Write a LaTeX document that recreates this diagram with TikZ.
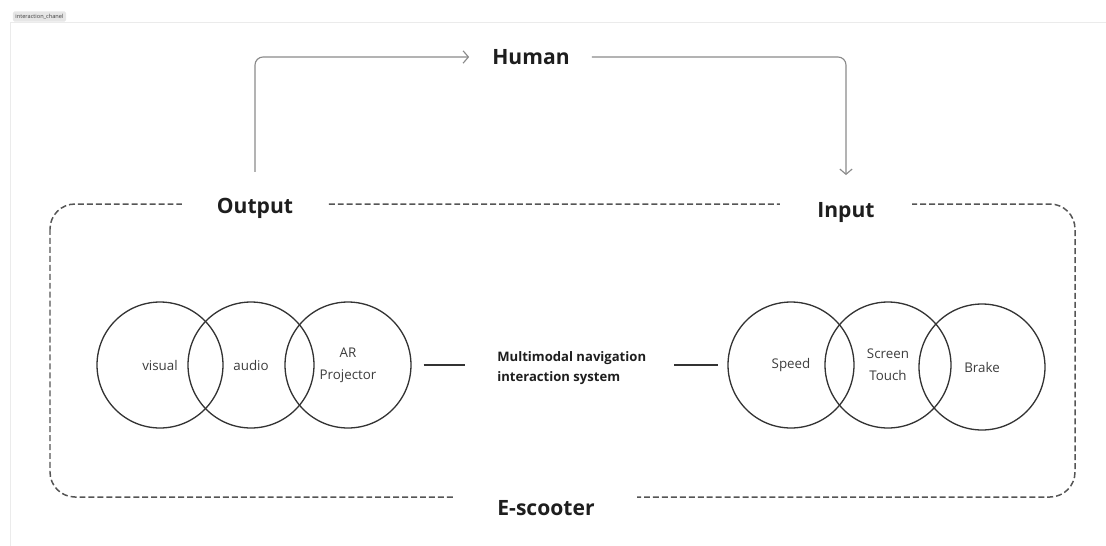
\documentclass[tikz,border=0pt]{standalone}
\usepackage{fontspec}
\setmainfont{Open Sans}
\usetikzlibrary{arrows.meta,positioning}

\definecolor{trazo}{HTML}{333333}
\definecolor{guion}{HTML}{555555}
\definecolor{flechagris}{HTML}{8A8A8A}
\definecolor{texto}{HTML}{3C3C3C}
\definecolor{negro}{HTML}{1E1E1E}
\definecolor{marcogris}{HTML}{EBEBEB}
\definecolor{rotulogris}{HTML}{E6E6E6}

\begin{document}
\begin{tikzpicture}[x=0.02cm,y=-0.02cm,
    circulo/.style={circle,draw=trazo,line width=0.75pt,minimum size=2.52cm,inner sep=0pt,
      align=center,text=texto,font=\fontsize{7.6}{12.5}\selectfont},
    titulo/.style={fill=white,text=negro,inner ysep=6pt,font=\fontsize{12}{14}\selectfont\bfseries},
    flecha/.style={draw=flechagris,line width=0.65pt,rounded corners=0.16cm,
      -{Straight Barb[length=3pt,width=7pt]}},
    enlace/.style={draw=trazo,line width=0.7pt},
    caja/.style={draw=guion,line width=0.85pt,dash pattern=on 3.4pt off 1.7pt,rounded corners=0.5cm}]
    % Lienzo y marco del tablero.
    \useasboundingbox (0,0) rectangle (1106,545);
    \draw[marcogris,line width=0.5pt] (10,22) rectangle (1130,570);
    \node[fill=rotulogris,rounded corners=1pt,inner sep=1.5pt,text=texto,
      font=\fontsize{3.2}{4}\selectfont] (rotulo) at (39.5,16.5) {interaction\_chanel};

    % Recuadro discontinuo del patinete; los titulos tapan los huecos.
    \draw[caja] (50,204) rectangle (1075,497);

    % Titulos: salida, entrada, usuario y vehiculo.
    \node[titulo,inner xsep=0.7cm] (output) at (255,208) {Output};
    \node[titulo,inner xsep=0.75cm] (input) at (846,213) {Input};
    \node[titulo] (human) at (531,57) {Human};
    \node[titulo,inner xsep=0.84cm] (escooter) at (546,508) {E-scooter};

    % Bucle de interaccion entre la persona y el sistema.
    \draw[flecha,shorten <=0.3cm,shorten >=0.34cm] (output.north) |- (human.west);
    \draw[flecha,shorten <=0.32cm,shorten >=0.34cm] (human.east) -| (input.north);

    % Canales de salida.
    \node[circulo] (visual) at (160,365) {visual};
    \node[circulo] (audio) at (251,365) {audio};
    \node[circulo] (ar) at (348,365) {AR\\Projector};

    % Canales de entrada.
    \node[circulo] (speed) at (791,365) {Speed};
    \node[circulo] (touch) at (888,365) {Screen\\Touch};
    \node[circulo] (brake) at (982,367) {Brake};

    % Sistema central y sus enlaces con ambos grupos.
    \node[anchor=west,align=left,inner sep=0pt,text=negro,
      font=\fontsize{7.45}{11.3}\selectfont\bfseries] (sistema) at (497,368)
      {Multimodal navigation\\interaction system};
    \draw[enlace,shorten <=0.24cm,shorten >=0.64cm] (ar.east) -- (sistema.west |- ar.east);
    \draw[enlace,shorten <=0.56cm,shorten >=0.06cm,dash pattern=on 0.88cm off 0.14cm on 0.02cm]
      (sistema.east |- speed.west) -- (speed.west);
\end{tikzpicture}
\end{document}
